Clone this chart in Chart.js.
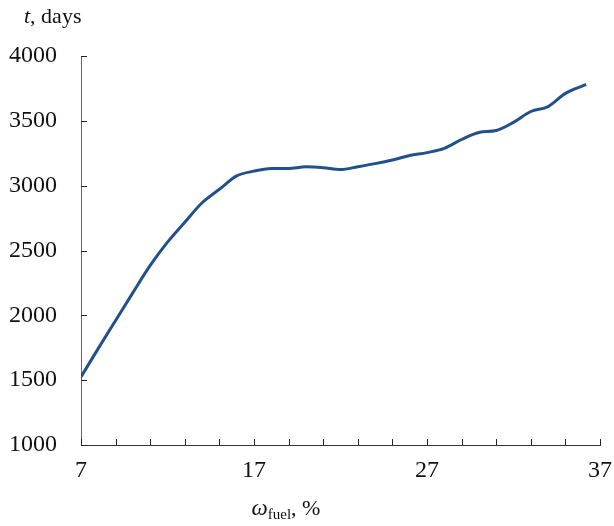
<!DOCTYPE html>
<html>
<head>
<meta charset="utf-8">
<script src="https://cdn.jsdelivr.net/npm/chart.js@4.4.1/dist/chart.umd.min.js"></script>
<style>
  html, body { margin: 0; padding: 0; background: #fff; }
  #wrap { width: 614px; height: 526px; position: relative; }
</style>
</head>
<body>
<div id="wrap"><canvas id="c" width="614" height="526"></canvas></div>
<script>
// Fuel fraction, %
const fuelShare = [7, 8, 9, 10, 11, 12, 13, 14, 15, 16, 17, 18, 19, 20, 21, 22,
  23, 24, 25, 26, 27, 28, 29, 30, 31, 32, 33, 34, 35, 36, 36.2];
// Time, days
const timeDays = [1525, 1745, 1960, 2175, 2385, 2565, 2718, 2868, 2972, 3075,
  3112, 3132, 3133, 3145, 3138, 3124, 3146, 3170, 3198, 3232, 3255, 3288,
  3356, 3410, 3425, 3488, 3572, 3610, 3712, 3770, 3780];

const xLabelTicks = [7, 17, 27, 37];
const xMinorTicks = [7, 9, 11, 13, 15, 17, 19, 21, 23, 25, 27, 29, 31, 33, 35, 37];
const yTicks = [1000, 1500, 2000, 2500, 3000, 3500, 4000];

const serif = '"Liberation Serif", "Times New Roman", serif';

// Inward tick marks and the two axis titles (mixed italic / subscript)
const decorations = {
  id: 'decorations',
  afterDraw(chart) {
    const ctx = chart.ctx;
    const xs = chart.scales.x, ys = chart.scales.y;
    const area = chart.chartArea;
    ctx.save();
    ctx.strokeStyle = '#222';
    ctx.lineWidth = 1;
    ctx.beginPath();
    xMinorTicks.forEach(v => {
      const px = Math.round(xs.getPixelForValue(v)) + 0.5;
      ctx.moveTo(px, area.bottom);
      ctx.lineTo(px, area.bottom - 6);
    });
    yTicks.forEach(v => {
      const py = Math.round(ys.getPixelForValue(v)) + 0.5;
      ctx.moveTo(area.left, py);
      ctx.lineTo(area.left + 6, py);
    });
    ctx.stroke();

    ctx.fillStyle = '#111';
    ctx.textBaseline = 'alphabetic';
    // y title
    let x = 24;
    ctx.font = 'italic 22px ' + serif;
    ctx.fillText('t', x, 23);
    x += ctx.measureText('t').width;
    ctx.font = '22px ' + serif;
    ctx.fillText(', days', x, 23);

    // x title
    const parts = [
      { t: '\u03c9', f: 'italic 23px ' + serif, dy: 0 },
      { t: 'fuel', f: '15px ' + serif, dy: 4 },
      { t: ', %', f: '22px ' + serif, dy: 0 }
    ];
    let total = 0;
    parts.forEach(p => { ctx.font = p.f; total += ctx.measureText(p.t).width; });
    x = 286 - total / 2;
    parts.forEach(p => {
      ctx.font = p.f;
      ctx.fillText(p.t, x, 515 + p.dy);
      x += ctx.measureText(p.t).width;
    });
    ctx.restore();
  }
};

new Chart(document.getElementById('c'), {
  type: 'line',
  data: {
    datasets: [{
      data: fuelShare.map((v, i) => ({ x: v, y: timeDays[i] })),
      borderColor: '#22508a',
      borderWidth: 3,
      pointRadius: 0,
      cubicInterpolationMode: 'monotone',
      fill: false
    }]
  },
  options: {
    responsive: false,
    animation: false,
    devicePixelRatio: 1,
    layout: { padding: { top: 56, right: 14, left: 0, bottom: 0 } },
    plugins: { legend: { display: false }, tooltip: { enabled: false } },
    scales: {
      x: {
        type: 'linear',
        min: 7, max: 37,
        afterBuildTicks(s) { s.ticks = xLabelTicks.map(v => ({ value: v })); },
        afterFit(s) { s.height = 81; s.paddingRight = 0; s.paddingLeft = 0; },
        grid: { display: true, drawOnChartArea: false, drawTicks: false },
        border: { display: true, color: '#333', width: 1 },
        ticks: {
          color: '#111',
          font: { family: serif, size: 24 },
          padding: 11,
          maxRotation: 0,
          autoSkip: false,
          callback: v => String(v)
        }
      },
      y: {
        min: 1000, max: 4000,
        afterBuildTicks(s) { s.ticks = yTicks.map(v => ({ value: v })); },
        afterFit(s) { s.width = 81; s.paddingTop = 0; s.paddingBottom = 0; },
        grid: { display: true, drawOnChartArea: false, drawTicks: false },
        border: { display: true, color: '#666', width: 1 },
        ticks: {
          color: '#111',
          font: { family: serif, size: 24 },
          padding: 24,
          callback: v => String(v)
        }
      }
    }
  },
  plugins: [decorations]
});
</script>
</body>
</html>
